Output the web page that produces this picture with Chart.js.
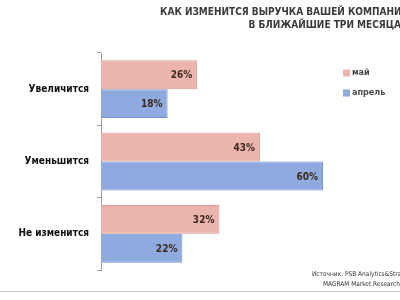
<!DOCTYPE html>
<html>
<head>
<meta charset="utf-8">
<script src="https://cdn.jsdelivr.net/npm/chart.js@4"></script>
<style>
  html, body { margin: 0; padding: 0; background: #ffffff; overflow: hidden; }
  #wrap { width: 400px; height: 300px; position: relative; }
</style>
</head>
<body>
<div id="wrap"><canvas id="chart" width="400" height="300"></canvas></div>
<script>
// Survey answers and share of respondents (%) by month
const categories = ['Увеличится', 'Уменьшится', 'Не изменится'];
const seriesNames = ['май', 'апрель'];
const mayValues = [26, 43, 32];
const aprilValues = [18, 60, 22];
const titleLines = ['КАК ИЗМЕНИТСЯ ВЫРУЧКА ВАШЕЙ КОМПАНИИ', 'В БЛИЖАЙШИЕ ТРИ МЕСЯЦА'];
const sourceLines = ['Источник: PSB Analytics&Strategy', 'MAGRAM Market Research'];

const fillColors = ['#ebb4ac', '#8eaadf'];
const edgeColors = ['#dc9c94', '#7393cf'];
const narrowFont = '"Liberation Sans Narrow", "DejaVu Sans Condensed", "Liberation Sans", sans-serif';

// Value labels drawn inside the end of each bar
const valueLabels = {
  id: 'valueLabels',
  afterDatasetsDraw(chart) {
    const ctx = chart.ctx;
    ctx.save();
    ctx.font = 'bold 10px ' + narrowFont;
    ctx.fillStyle = '#3d2a1c';
    ctx.textAlign = 'right';
    ctx.textBaseline = 'middle';
    chart.data.datasets.forEach((ds, di) => {
      chart.getDatasetMeta(di).data.forEach((bar, i) => {
        ctx.fillText(ds.data[i] + '%', bar.x - 5, bar.y + 1);
      });
    });
    ctx.restore();
  }
};

// Title, legend, source note and the bottom rule
const decorations = {
  id: 'decorations',
  afterDraw(chart) {
    const ctx = chart.ctx;
    const w = chart.width;
    ctx.save();
    ctx.fillStyle = '#3a3a3a';
    ctx.textAlign = 'right';
    ctx.textBaseline = 'middle';
    ctx.font = 'bold 10px ' + narrowFont;
    ctx.fillText(titleLines[0], w + 9, 12);
    ctx.fillText(titleLines[1], w + 1, 25);

    // legend
    ctx.textAlign = 'left';
    ctx.font = 'bold 9px ' + narrowFont;
    chart.data.datasets.forEach((ds, i) => {
      const y = 73 + i * 20;
      ctx.fillStyle = ds.backgroundColor;
      ctx.fillRect(343, y - 3.5, 7, 7);
      ctx.fillStyle = '#4a4a4a';
      ctx.fillText(ds.label, 352, y);
    });

    // source
    ctx.textAlign = 'left';
    ctx.font = '6.5px ' + narrowFont;
    ctx.fillStyle = '#333333';
    ctx.fillText(sourceLines[0], 312, 274);
    ctx.fillText(sourceLines[1], 323, 284);

    ctx.strokeStyle = '#c8c8c8';
    ctx.lineWidth = 1;
    ctx.beginPath();
    ctx.moveTo(0, 291.5);
    ctx.lineTo(w, 291.5);
    ctx.stroke();
    ctx.restore();
  }
};

new Chart(document.getElementById('chart'), {
  type: 'bar',
  data: {
    labels: categories,
    datasets: [
      { label: seriesNames[0], data: mayValues, backgroundColor: fillColors[0], borderColor: edgeColors[0], borderWidth: 1 },
      { label: seriesNames[1], data: aprilValues, backgroundColor: fillColors[1], borderColor: edgeColors[1], borderWidth: 1 }
    ]
  },
  options: {
    indexAxis: 'y',
    responsive: false,
    animation: false,
    layout: { padding: { top: 53, bottom: 30, right: 40, left: 0 } },
    datasets: { bar: { categoryPercentage: 0.8, barPercentage: 1.0 } },
    plugins: { legend: { display: false }, title: { display: false }, tooltip: { enabled: false } },
    scales: {
      x: { min: 0, max: 70, display: false },
      y: {
        afterFit(scale) { scale.width = 101; },
        grid: { display: true, drawOnChartArea: false, offset: true, tickLength: 4, color: '#a0a0a0' },
        border: { display: true, color: '#a0a0a0' },
        ticks: { color: '#111111', font: { family: narrowFont, size: 10, weight: 'bold' }, padding: 8 }
      }
    }
  },
  plugins: [valueLabels, decorations]
});
</script>
</body>
</html>
